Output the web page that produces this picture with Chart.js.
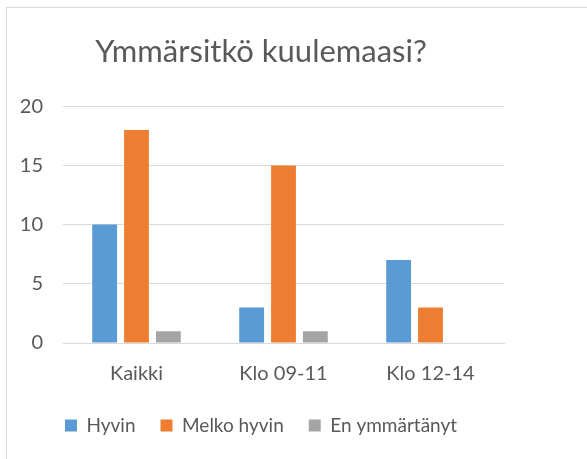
<!DOCTYPE html>
<html>
<head>
<meta charset="utf-8">
<script src="https://cdn.jsdelivr.net/npm/chart.js@4"></script>
<style>
  html, body { margin: 0; padding: 0; background: #fff; }
  #wrap { position: relative; width: 587px; height: 459px; }
  #frame { position: absolute; left: 6px; top: 7px; width: 700px; height: 600px;
           border-left: 1px solid #d9d9d9; border-top: 1px solid #d9d9d9; }
  canvas { position: absolute; left: 0; top: 0; }
</style>
</head>
<body>
<div id="wrap">
  <div id="frame"></div>
  <canvas id="chart" width="587" height="459"></canvas>
</div>
<script>
const categories = ['Kaikki', 'Klo 09-11', 'Klo 12-14'];
const hyvin = [10, 3, 7];
const melkoHyvin = [18, 15, 3];
const enYmmartanyt = [1, 1, 0];

const textColor = '#595959';
const fontFamily = 'Lato, "Liberation Sans", sans-serif';

var ctx = document.getElementById('chart').getContext('2d');

const data = {
  labels: categories,
  datasets: [
    { label: 'Hyvin', data: hyvin, backgroundColor: '#5b9bd5' },
    { label: 'Melko hyvin', data: melkoHyvin, backgroundColor: '#ed7d31' },
    { label: 'En ymmärtänyt', data: enYmmartanyt, backgroundColor: '#a5a5a5' }
  ]
};

const config = {
  type: 'bar',
  data: data,
  options: {
    responsive: false,
    animation: false,
    layout: { padding: { left: 18, right: 83, top: 0, bottom: 14 } },
    datasets: {
      bar: { categoryPercentage: 0.65, barPercentage: 0.78 }
    },
    scales: {
      x: {
        grid: { display: false },
        border: { color: '#d9d9d9', width: 1 },
        ticks: { color: textColor, font: { family: fontFamily, size: 20 }, padding: 11 },
        afterFit: function (scale) { scale.height = 48; }
      },
      y: {
        min: 0,
        max: 20,
        ticks: { stepSize: 5, color: textColor, font: { family: fontFamily, size: 20 }, padding: 20 },
        grid: { color: '#d9d9d9', drawTicks: false },
        border: { display: false },
        afterFit: function (scale) { scale.width = 45; }
      }
    },
    plugins: {
      title: {
        display: true,
        text: 'Ymmärsitkö kuulemaasi?',
        color: textColor,
        font: { family: fontFamily, size: 31, weight: 'normal' },
        padding: { top: 33, bottom: 36 }
      },
      legend: {
        position: 'bottom',
        labels: {
          color: textColor,
          font: { family: fontFamily, size: 19 },
          boxWidth: 12,
          boxHeight: 12,
          padding: 25
        }
      },
      tooltip: { enabled: false }
    }
  }
};

var chart = new Chart(ctx, config);
</script>
</body>
</html>
